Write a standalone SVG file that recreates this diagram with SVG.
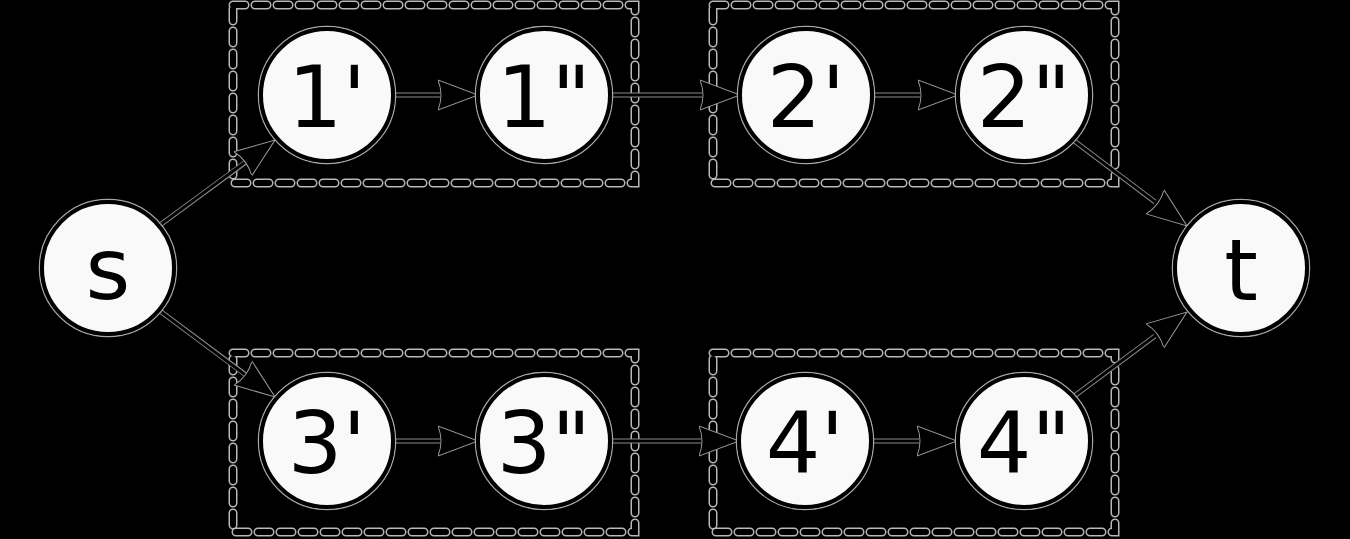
<svg xmlns="http://www.w3.org/2000/svg" width="1350" height="539" viewBox="0 0 1350 539">
<style>
.node circle{fill:#f9f9f9;stroke:#000;stroke-width:4}
.node .ring{fill:none;stroke:#a8a8a8;stroke-width:1.5}
.node text{font-family:"DejaVu Sans",sans-serif;font-size:86px;fill:#000;text-anchor:middle}
.halo{fill:none;stroke:#8a8a8a;stroke-width:5}
.edge{fill:none;stroke:#000;stroke-width:3}
.boxh{fill:none;stroke:#b8b8b8;stroke-width:9;stroke-dasharray:12 10;stroke-linecap:round}
.box{fill:none;stroke:#000;stroke-width:6;stroke-dasharray:12 10;stroke-linecap:round}
</style>
<defs>
<marker id="ah" markerUnits="userSpaceOnUse" markerWidth="44" markerHeight="34" refX="40" refY="17" orient="auto">
<path d="M0,2 L40,17 L0,32 Q6,17 0,2 Z" fill="#000" stroke="#9a9a9a" stroke-width="1"/>
</marker>
</defs>
<rect width="1350" height="539" fill="#000"/>
<g id="groups">
<rect class="boxh" x="233" y="5" width="402" height="178"/>
<rect class="box" x="233" y="5" width="402" height="178"/>
<rect class="boxh" x="713" y="5" width="402" height="178"/>
<rect class="box" x="713" y="5" width="402" height="178"/>
<rect class="boxh" x="233" y="353" width="402" height="179"/>
<rect class="box" x="233" y="353" width="402" height="179"/>
<rect class="boxh" x="713" y="353" width="402" height="179"/>
<rect class="box" x="713" y="353" width="402" height="179"/>
</g>
<g id="connectors">
<path class="halo" d="M160,225 L250,159 M160,311 L250,378 M394,95 L440,95 M610,95 L702,95 M873,95 L920,95 M1073,140 L1155,202 M394,441 L440,441 M610,441 L701,441 M872,441 L919,441 M1073,397 L1155,336"/>
<line class="edge" x1="160" y1="225" x2="275" y2="140" marker-end="url(#ah)"/>
<line class="edge" x1="160" y1="311" x2="275" y2="397" marker-end="url(#ah)"/>
<line class="edge" x1="394" y1="95" x2="478" y2="95" marker-end="url(#ah)"/>
<line class="edge" x1="610" y1="95" x2="740" y2="95" marker-end="url(#ah)"/>
<line class="edge" x1="873" y1="95" x2="958" y2="95" marker-end="url(#ah)"/>
<line class="edge" x1="1073" y1="140" x2="1187" y2="226" marker-end="url(#ah)"/>
<line class="edge" x1="394" y1="441" x2="478" y2="441" marker-end="url(#ah)"/>
<line class="edge" x1="610" y1="441" x2="739" y2="441" marker-end="url(#ah)"/>
<line class="edge" x1="872" y1="441" x2="957" y2="441" marker-end="url(#ah)"/>
<line class="edge" x1="1073" y1="397" x2="1187" y2="312" marker-end="url(#ah)"/>
</g>
<g id="s" class="node"><circle class="ring" cx="108" cy="268" r="68.5"/><circle cx="108" cy="268" r="66"/><text x="108" y="299">s</text></g>
<g id="n1a" class="node"><circle class="ring" cx="327" cy="95" r="68.5"/><circle cx="327" cy="95" r="66"/><text x="327" y="127">1'</text></g>
<g id="n1b" class="node"><circle class="ring" cx="544" cy="95" r="68.5"/><circle cx="544" cy="95" r="66"/><text x="544" y="127">1"</text></g>
<g id="n2a" class="node"><circle class="ring" cx="806" cy="95" r="68.5"/><circle cx="806" cy="95" r="66"/><text x="806" y="127">2'</text></g>
<g id="n2b" class="node"><circle class="ring" cx="1024" cy="95" r="68.5"/><circle cx="1024" cy="95" r="66"/><text x="1024" y="127">2"</text></g>
<g id="n3a" class="node"><circle class="ring" cx="327" cy="441" r="68.5"/><circle cx="327" cy="441" r="66"/><text x="327" y="473">3'</text></g>
<g id="n3b" class="node"><circle class="ring" cx="544" cy="441" r="68.5"/><circle cx="544" cy="441" r="66"/><text x="544" y="473">3"</text></g>
<g id="n4a" class="node"><circle class="ring" cx="805" cy="441" r="68.5"/><circle cx="805" cy="441" r="66"/><text x="805" y="473">4'</text></g>
<g id="n4b" class="node"><circle class="ring" cx="1024" cy="441" r="68.5"/><circle cx="1024" cy="441" r="66"/><text x="1024" y="473">4"</text></g>
<g id="t" class="node"><circle class="ring" cx="1241" cy="268" r="68.5"/><circle cx="1241" cy="268" r="66"/><text x="1241" y="300">t</text></g>
</svg>
